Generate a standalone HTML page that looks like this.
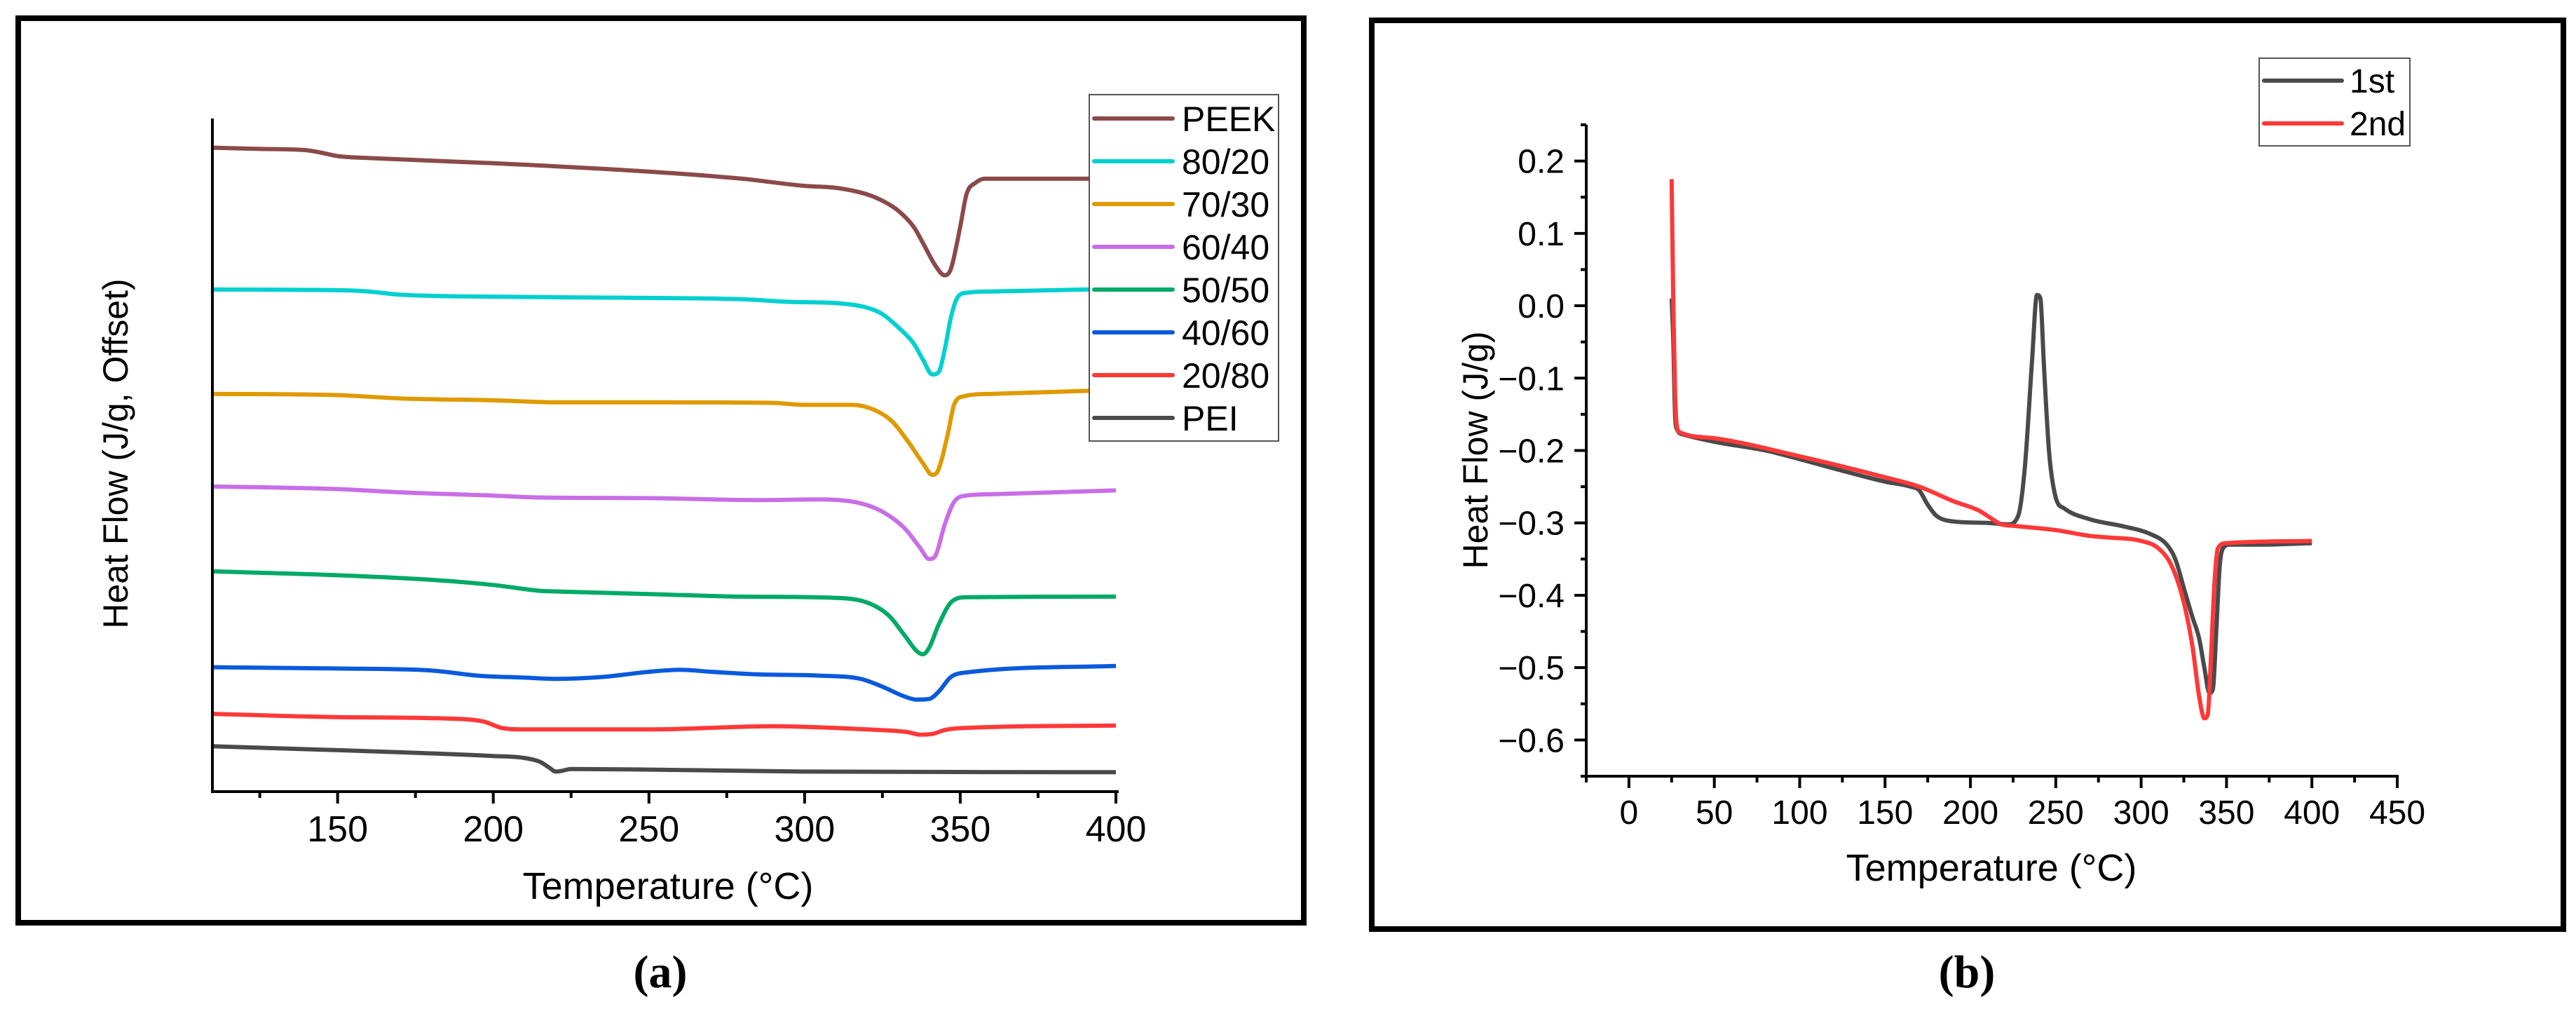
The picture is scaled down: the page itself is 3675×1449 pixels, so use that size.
<!DOCTYPE html>
<html><head><meta charset="utf-8"><style>
html,body{margin:0;padding:0;background:#fff;width:3675px;height:1449px;overflow:hidden}
svg{display:block;font-family:"Liberation Sans",sans-serif}
</style></head><body>
<svg id="fig" width="3675" height="1449" viewBox="0 0 3675 1449">
  <rect x="26" y="26" width="1834" height="1290" fill="none" stroke="#000" stroke-width="8"/>
  <rect x="1957" y="29" width="1700" height="1296" fill="none" stroke="#000" stroke-width="8"/>
  <g id="pa"></g>
  <g id="pb"></g>
  <text x="942" y="1408" font-family="Liberation Serif,serif" font-weight="bold" font-size="66" text-anchor="middle">(a)</text>
  <text x="2806" y="1408" font-family="Liberation Serif,serif" font-weight="bold" font-size="66" text-anchor="middle">(b)</text>
</svg>
<script>
// ---------- Panel (a) data: heat flow offset (arbitrary units) ----------
const seriesNamesA = ["PEEK","80/20","70/30","60/40","50/50","40/60","20/80","PEI"];
const seriesColorsA = ["#8b4a4a","#00d0d0","#e09a00","#c86ee6","#00aa66","#0a5adc","#ff3838","#4a4a4a"];
const tPEEK = [110,125,140,145,150,160,200,250,280,300,310,320,325,330,335,338,342,345,347,350,352,355,358,400];
const hPEEK = [1022,1020,1018,1014,1009,1006,998,985,974,963,960,950,940,925,900,875,840,825,835,900,950,968,974,974];
const t8020 = [110,150,160,170,200,250,280,295,310,320,325,330,335,338,341,343,345,347,349,352,360,400];
const h8020 = [803,802,800,795,792,790,788,784,782,775,765,745,720,695,672,675,710,760,790,798,800,804];
const t7030 = [110,150,170,200,220,250,290,300,315,322,328,333,338,341,343,346,348,351,360,400];
const h7030 = [642,640,635,632,629,629,628,625,625,618,600,570,535,517,525,580,625,638,642,648];
const t6040 = [110,150,170,200,215,250,285,305,318,325,332,337,340,342,345,348,352,360,400];
const h6040 = [499,495,490,485,482,481,478,479,473,460,435,405,387,392,440,475,485,487,493];
const t5050 = [110,150,180,200,215,220,250,280,310,320,327,332,336,338,340,343,347,352,400];
const h5050 = [368,362,355,347,338,337,333,329,327,320,300,270,245,240,250,285,320,328,329];
const t4060 = [110,150,180,195,210,220,235,250,260,270,285,305,318,325,332,336,340,343,347,352,400];
const h4060 = [220,218,215,207,204,202,205,213,216,213,209,207,202,190,175,170,171,182,205,212,222];
const t2080 = [110,150,190,197,203,210,250,290,300,320,333,337,341,345,350,400];
const h2080 = [148,143,140,136,126,124,124,129,128,124,120,116,117,123,126,130];
const tPEI = [110,150,200,210,215,218,220,222,225,250,300,400];
const hPEI = [98,92,83,80,74,65,59,60,63,62,59,58];
const xTicksA = [150,200,250,300,350,400];
const xMinorA = [125,175,225,275,325,375];

// ---------- Panel (b) data: heat flow (J/g) ----------
const tFirst = [25,26,27,28,32,50,80,100,125,150,165,170,175,180,190,210,222,228,232,236,239,241,243,246,250,255,270,290,305,315,320,325,330,334,337,340,342,344,346,348,352,370,400];
const hFirst = [0.01,-0.05,-0.15,-0.17,-0.178,-0.188,-0.2,-0.212,-0.228,-0.243,-0.25,-0.255,-0.275,-0.29,-0.298,-0.3,-0.302,-0.29,-0.22,-0.08,0.015,0.01,-0.08,-0.2,-0.265,-0.28,-0.295,-0.305,-0.315,-0.33,-0.35,-0.39,-0.43,-0.46,-0.5,-0.535,-0.53,-0.45,-0.36,-0.335,-0.33,-0.33,-0.328];
const tSecond = [25,26,27,28,30,50,100,150,170,190,205,213,218,225,250,270,280,300,310,318,325,330,334,337,339,341,343,345,350,400];
const hSecond = [0.175,0.0,-0.12,-0.165,-0.175,-0.183,-0.208,-0.237,-0.25,-0.27,-0.283,-0.295,-0.302,-0.304,-0.31,-0.318,-0.32,-0.325,-0.335,-0.36,-0.41,-0.47,-0.54,-0.57,-0.565,-0.48,-0.38,-0.335,-0.328,-0.325];
const xTicksB = [0,50,100,150,200,250,300,350,400,450];
const xMinorB = [-25,25,75,125,175,225,275,325,375,425];
const yTicksB = [0.2,0.1,0.0,-0.1,-0.2,-0.3,-0.4,-0.5,-0.6];
const yTickLabelsB = ["0.2","0.1","0.0","\u22120.1","\u22120.2","\u22120.3","\u22120.4","\u22120.5","\u22120.6"];
const yMinorB = [0.25,0.15,0.05,-0.05,-0.15,-0.25,-0.35,-0.45,-0.55,-0.65];

const NS = "http://www.w3.org/2000/svg";
function mk(tag, attrs, parent){const e=document.createElementNS(NS,tag);for(const k in attrs)e.setAttribute(k,attrs[k]);parent.appendChild(e);return e;}
function lin(d0,d1,r0,r1){return v=>r0+(v-d0)*(r1-r0)/(d1-d0);}
// monotone cubic (Fritsch-Carlson) smoothing through the data points
function pathD(xs,ys,sx,sy){
  const X=xs.map(sx), Y=ys.map(sy), n=X.length;
  if(n<3) return X.map((x,i)=>(i?"L":"M")+x+","+Y[i]).join(" ");
  const d=[], m=[];
  for(let i=0;i<n-1;i++) d.push((Y[i+1]-Y[i])/(X[i+1]-X[i]));
  m[0]=d[0]; m[n-1]=d[n-2];
  for(let i=1;i<n-1;i++){ m[i]=(d[i-1]*d[i]<=0)?0:(d[i-1]+d[i])/2; }
  for(let i=0;i<n-1;i++){
    if(d[i]===0){m[i]=0;m[i+1]=0;continue;}
    const a=m[i]/d[i], b=m[i+1]/d[i], s=a*a+b*b;
    if(s>9){const t=3/Math.sqrt(s);m[i]=t*a*d[i];m[i+1]=t*b*d[i];}
  }
  let p="M"+X[0].toFixed(1)+","+Y[0].toFixed(1);
  for(let i=0;i<n-1;i++){
    const h=(X[i+1]-X[i])/3;
    p+=" C"+(X[i]+h).toFixed(1)+","+(Y[i]+m[i]*h).toFixed(1)+" "+(X[i+1]-h).toFixed(1)+","+(Y[i+1]-m[i+1]*h).toFixed(1)+" "+X[i+1].toFixed(1)+","+Y[i+1].toFixed(1);
  }
  return p;
}

// ---------- Panel (a) ----------
const pa = document.getElementById('pa');
const xA = lin(110,400,304,1592);
const yA = lin(28,1067,1129,169);
const dataA = [[tPEEK,hPEEK],[t8020,h8020],[t7030,h7030],[t6040,h6040],[t5050,h5050],[t4060,h4060],[t2080,h2080],[tPEI,hPEI]];
dataA.forEach((d,i)=>{
  const p = mk('path',{d:pathD(d[0],d[1],xA,yA),fill:'none',stroke:seriesColorsA[i],'stroke-width':6,'stroke-linejoin':'round'},pa);
  
  
});
let ax = mk('line',{x1:303,y1:169,x2:303,y2:1131,stroke:'#000','stroke-width':4},pa);


ax = mk('line',{x1:301,y1:1129,x2:1596,y2:1129,stroke:'#000','stroke-width':4},pa);


xTicksA.forEach(v=>{
  const l = mk('line',{x1:xA(v),y1:1129,x2:xA(v),y2:1146,stroke:'#000','stroke-width':4},pa);
  
  
  const t = mk('text',{x:xA(v),y:1200,'font-size':52,'text-anchor':'middle'},pa);
  t.textContent = v;
  
  
});
xMinorA.forEach(v=>{
  const l = mk('line',{x1:xA(v),y1:1129,x2:xA(v),y2:1138,stroke:'#000','stroke-width':4},pa);
  
  
});
let tt = mk('text',{x:953,y:1282,'font-size':54,'text-anchor':'middle'},pa);
tt.textContent = 'Temperature (\u00B0C)';


tt = mk('text',{x:0,y:0,'font-size':50,'text-anchor':'middle',transform:'translate(182,647) rotate(-90)'},pa);
tt.textContent = 'Heat Flow (J/g, Offset)';


// legend a
const lgA = mk('g',{},pa);


mk('rect',{x:1554,y:135,width:270,height:494,fill:'#fff',stroke:'#555','stroke-width':2},lgA);
seriesNamesA.forEach((n,i)=>{
  const y = 169 + i*61;
  const g = mk('g',{},lgA);
  
  
  mk('line',{x1:1561,y1:y,x2:1673,y2:y,stroke:seriesColorsA[i],'stroke-width':6,'stroke-linecap':'round'},g);
  const t = mk('text',{x:1686,y:y+18,'font-size':50},g);
  t.textContent = n;
});

// ---------- Panel (b) ----------
const pb = document.getElementById('pb');
const xB = lin(-25,450,2263,3420);
const yB = lin(-0.65,0.25,1107,178);
let s = mk('path',{d:pathD(tFirst,hFirst,xB,yB),fill:'none',stroke:'#4a4a4a','stroke-width':6,'stroke-linejoin':'round'},pb);


s = mk('path',{d:pathD(tSecond,hSecond,xB,yB),fill:'none',stroke:'#ff3838','stroke-width':6,'stroke-linejoin':'round'},pb);


ax = mk('line',{x1:2263,y1:178,x2:2263,y2:1109,stroke:'#000','stroke-width':4},pb);


ax = mk('line',{x1:2261,y1:1107,x2:3422,y2:1107,stroke:'#000','stroke-width':4},pb);


xTicksB.forEach(v=>{
  const l = mk('line',{x1:xB(v),y1:1107,x2:xB(v),y2:1124,stroke:'#000','stroke-width':4},pb);
  
  
  const t = mk('text',{x:xB(v),y:1175,'font-size':48,'text-anchor':'middle'},pb);
  t.textContent = v;
  
  
});
xMinorB.forEach(v=>{
  const l = mk('line',{x1:xB(v),y1:1107,x2:xB(v),y2:1116,stroke:'#000','stroke-width':4},pb);
  
  
});
yTicksB.forEach((v,i)=>{
  const l = mk('line',{x1:2246,y1:yB(v),x2:2263,y2:yB(v),stroke:'#000','stroke-width':4},pb);
  
  
  const t = mk('text',{x:2232,y:yB(v)+17,'font-size':48,'text-anchor':'end'},pb);
  t.textContent = yTickLabelsB[i];
  
  
});
yMinorB.forEach(v=>{
  const l = mk('line',{x1:2255,y1:yB(v),x2:2263,y2:yB(v),stroke:'#000','stroke-width':4},pb);
  
  
});
tt = mk('text',{x:2841,y:1256,'font-size':54,'text-anchor':'middle'},pb);
tt.textContent = 'Temperature (\u00B0C)';


tt = mk('text',{x:0,y:0,'font-size':50,'text-anchor':'middle',transform:'translate(2122,642) rotate(-90)'},pb);
tt.textContent = 'Heat Flow (J/g)';


const lgB = mk('g',{},pb);


mk('rect',{x:3223,y:83,width:215,height:125,fill:'#fff',stroke:'#555','stroke-width':2},lgB);
[["1st","#4a4a4a",115],["2nd","#ff3838",176]].forEach(e=>{
  const g = mk('g',{},lgB);
  
  
  mk('line',{x1:3230,y1:e[2],x2:3341,y2:e[2],stroke:e[1],'stroke-width':6,'stroke-linecap':'round'},g);
  const t = mk('text',{x:3352,y:e[2]+17,'font-size':48},g);
  t.textContent = e[0];
});
</script>
</body></html>
